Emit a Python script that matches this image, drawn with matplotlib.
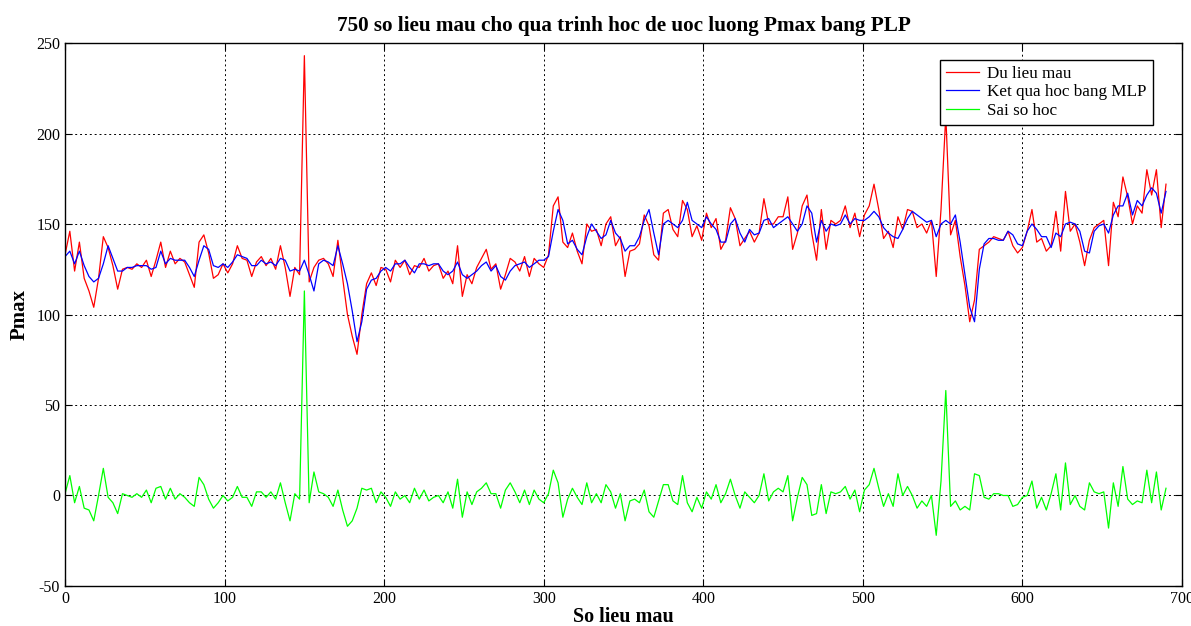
import matplotlib
matplotlib.use("Agg")
import matplotlib.pyplot as plt
import numpy as np

# sample index (every 3rd sample)
step = 3
du_lieu_mau = [
    133, 146, 124, 140, 120, 113, 104, 120, 143, 137,
    127, 114, 125, 126, 125, 128, 126, 130, 121, 130,
    140, 126, 135, 128, 131, 129, 122, 115, 140, 144,
    134, 120, 122, 128, 123, 128, 138, 131, 130, 121,
    129, 132, 127, 131, 125, 138, 126, 110, 126, 122,
    243, 118, 126, 130, 131, 128, 121, 141, 120, 100,
    88, 78, 100, 117, 123, 116, 126, 125, 118, 130,
    126, 130, 122, 127, 126, 131, 124, 127, 128, 120,
    124, 117, 138, 110, 122, 117, 126, 131, 136, 125,
    128, 114, 122, 131, 129, 124, 132, 121, 131, 128,
    126, 133, 160, 165, 140, 137, 145, 135, 128, 150,
    146, 147, 138, 150, 154, 138, 143, 121, 135, 136,
    139, 155, 149, 133, 130, 156, 158, 147, 143, 163,
    158, 143, 149, 141, 156, 148, 153, 136, 141, 159,
    153, 138, 142, 146, 140, 145, 164, 150, 150, 154,
    154, 165, 136, 145, 160, 166, 145, 130, 158, 136,
    152, 150, 152, 160, 148, 156, 143, 155, 160, 172,
    158, 142, 146, 137, 154, 147, 158, 157, 148, 150,
    145, 152, 121, 158, 210, 144, 152, 132, 116, 96,
    108, 136, 138, 140, 143, 142, 141, 146, 138, 134,
    137, 146, 158, 140, 142, 135, 138, 157, 135, 168,
    146, 150, 140, 127, 141, 148, 150, 152, 127, 162,
    154, 176, 165, 150, 160, 156, 180, 166, 180, 148,
    172,
]
ket_qua_mlp = [
    132, 135, 128, 135, 127, 121, 118, 120, 128, 138,
    131, 124, 124, 126, 126, 127, 127, 127, 125, 126,
    135, 128, 131, 130, 130, 130, 126, 121, 130, 138,
    136, 127, 126, 128, 126, 129, 133, 132, 131, 127,
    127, 130, 128, 129, 127, 131, 130, 124, 125, 124,
    130, 122, 113, 128, 130, 129, 127, 138, 128, 117,
    102, 85, 96, 114, 119, 120, 124, 126, 124, 128,
    128, 130, 126, 123, 128, 128, 127, 128, 128, 124,
    122, 124, 129, 122, 120, 122, 124, 127, 129, 124,
    127, 121, 119, 124, 127, 128, 129, 126, 128, 130,
    130, 132, 146, 158, 152, 139, 141, 136, 133, 143,
    150, 146, 142, 144, 152, 145, 142, 135, 138, 138,
    143, 152, 158, 145, 133, 150, 152, 150, 148, 152,
    162, 152, 150, 148, 154, 150, 147, 140, 140, 150,
    153, 145, 140, 147, 144, 145, 152, 153, 148, 150,
    152, 154, 150, 146, 150, 160, 156, 140, 152, 146,
    150, 149, 150, 155, 150, 153, 152, 152, 154, 157,
    154, 148, 145, 143, 142, 147, 153, 157, 155, 153,
    151, 152, 143, 150, 152, 150, 155, 140, 122, 104,
    96, 125, 139, 142, 142, 141, 141, 146, 144, 139,
    138, 146, 150, 147, 143, 143, 137, 145, 143, 150,
    151, 150, 146, 135, 134, 146, 149, 150, 145, 155,
    160, 160, 167, 155, 163, 160, 166, 170, 167, 156,
    168,
]

red = np.array(du_lieu_mau, dtype=float)
blue = np.array(ket_qua_mlp, dtype=float)
sai_so = red - blue
x = np.arange(len(red)) * step

plt.rcParams["font.family"] = ["Liberation Serif", "DejaVu Serif"]
plt.rcParams["axes.unicode_minus"] = False

fig = plt.figure(figsize=(11.91, 6.26), dpi=100)
ax = fig.add_axes([0.0546, 0.0639, 0.9378, 0.8674])

ax.plot(x, red, color=(1, 0, 0), lw=0.9, label="Du lieu mau")
ax.plot(x, blue, color=(0, 0, 1), lw=0.9, label="Ket qua hoc bang MLP")
ax.plot(x, sai_so, color=(0, 1, 0), lw=0.9, label="Sai so hoc")

ax.set_xlim(0, 700)
ax.set_ylim(-50, 250)
ax.set_xticks(np.arange(0, 701, 100))
ax.set_yticks(np.arange(-50, 251, 50))
ax.grid(True, color="black", linestyle=(0, (2, 3)), linewidth=0.7)
ax.tick_params(direction="in", labelsize=11.5, length=5, top=True, right=True)
for s in ax.spines.values():
    s.set_linewidth(1.0)

ax.set_title("750 so lieu mau cho qua trinh hoc de uoc luong Pmax bang PLP",
             fontsize=15.2, fontweight="bold", pad=9)
ax.set_xlabel("So lieu mau", fontsize=14.5, fontweight="bold", labelpad=0)
ax.set_ylabel("Pmax", fontsize=15, fontweight="bold", labelpad=5)

leg = ax.legend(loc="upper right", bbox_to_anchor=(0.9815, 0.985),
                fontsize=12.3, fancybox=False, framealpha=1, edgecolor="black",
                borderpad=0.35, labelspacing=0.15, handlelength=1.9,
                handletextpad=0.5)
leg.get_frame().set_linewidth(1.0)

fig.savefig("out.png", dpi=100)
